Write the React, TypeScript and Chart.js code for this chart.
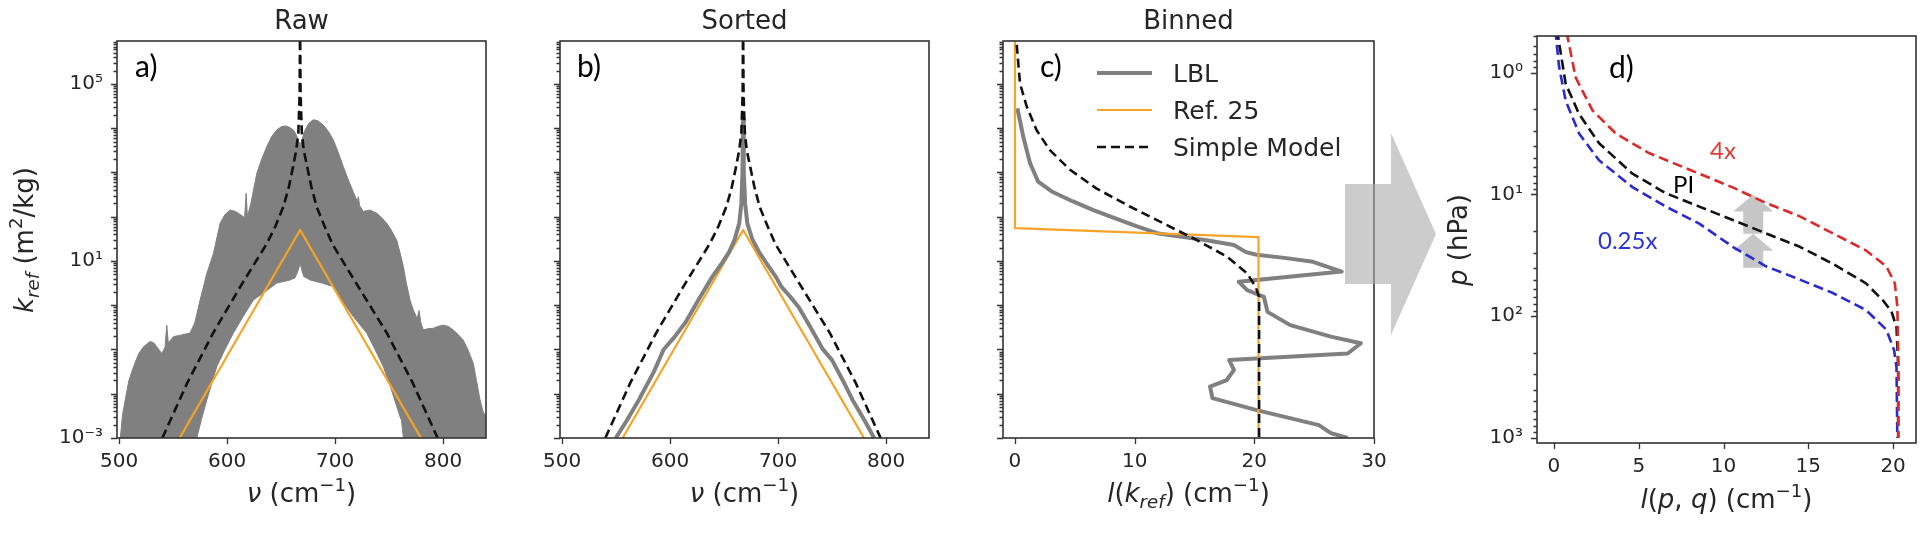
import React, { useEffect, useRef } from 'react';
import { Chart, registerables } from 'chart.js';

Chart.register(...registerables);

const FONT = "'DejaVu Sans', sans-serif";
const LETTER_FONT = "Lato, 'Open Sans', sans-serif";
const INK = '#262626';
const GRAY = '#808080';
const ORANGE = '#f5a425';
const RED = '#dc2a2a';
const BLUE = '#2a2ad2';
const H = 545;

// ---------- axes ----------
const nuTicks = [500, 600, 700, 800];
const kTickValues = [1e-3, 1e1, 1e5];
const kTickLabels = ['10⁻³', '10¹', '10⁵'];
const binTicks = [0, 10, 20, 30];
const lpqTicks = [0, 5, 10, 15, 20];
const pTickValues = [1, 10, 100, 1000];
const pTickLabels = ['10⁰', '10¹', '10²', '10³'];

// ---------- a) raw line-by-line spectrum, [ν (cm⁻¹), log10 k (m²/kg)] ----------
// upper envelope, left to right
const rawUpper: [number, number][] = [
  [500.9, -3.05], [503, -2.5], [505.6, -2.14], [509, -1.7], [513.3, -1.39], [518, -1.1],
  [522.5, -0.94], [528.7, -0.82], [532, -0.85], [534.9, -0.94], [539.5, -1.09], [542.5, -0.95],
  [544.1, -0.45], [545.5, -0.85], [550.3, -0.71], [558, -0.67], [565.7, -0.63], [570, -0.4],
  [575, 0.12], [581, 0.7], [587.3, 1.17], [593.5, 1.85], [598, 2.05], [602.8, 2.15], [608, 2.12],
  [612, 2.05], [616.2, 1.98], [617.6, 2.53], [618.8, 2.0], [622, 2.3], [627.5, 2.98], [632, 3.3],
  [636.7, 3.58], [641, 3.8], [646, 3.96], [650, 4.03], [653.7, 4.05], [657, 4.03], [661.4, 3.96],
  [664, 3.85], [666, 3.72], [667.6, 3.62], [669.1, 3.72], [672, 3.95], [676, 4.12], [679.9, 4.19],
  [684, 4.17], [689.2, 4.07], [694, 3.92], [698.5, 3.73], [703, 3.45], [707.7, 3.13], [712, 2.85],
  [717, 2.55], [720.5, 2.35], [721.6, 2.45], [722.7, 2.25], [726.2, 2.12], [732.4, 2.15],
  [738.6, 2.08], [743, 1.98], [747.9, 1.85], [752, 1.7], [757.1, 1.47], [760, 1.2], [763.3, 0.87],
  [766, 0.5], [769.4, 0.12], [772.5, -0.11], [776, -0.3], [777.8, -0.12], [779.5, -0.4],
  [781.8, -0.56], [786, -0.53], [791, -0.52], [795, -0.48], [800.3, -0.45], [805, -0.48],
  [809.5, -0.56], [814, -0.66], [818.8, -0.79], [823, -1.0], [828, -1.31], [831, -1.7],
  [834.3, -2.14], [837, -2.4], [839.8, -2.52], [842, -2.7],
];
// lower envelope, right to left (below the axis where the band reaches the floor)
const rawLower: [number, number][] = [
  [842, -4], [763.5, -4], [763.3, -3.0], [761.5, -2.6], [760.2, -2.52], [752, -1.9], [744.7, -1.39],
  [737, -1.0], [729.3, -0.63], [717, -0.26], [708, 0.05], [698.5, 0.42], [688, 0.5], [676.9, 0.57],
  [671, 0.65], [669.1, 0.8], [667.6, 0.95], [666, 0.8], [663, 0.62], [658.3, 0.57], [646, 0.5],
  [635, 0.3], [624.4, 0.12], [615, -0.25], [605.8, -0.63], [598, -1.0], [590.4, -1.39],
  [581.2, -2.14], [576, -2.6], [571.9, -3.0], [571.9, -4], [500, -4],
];

// ---------- b) sorted spectrum ----------
const sortedLBL: [number, number][] = [
  [549.7, -3.0], [560, -2.6], [571, -2.14], [585, -1.5], [594, -1.0], [599, -0.86], [604, -0.72],
  [614.5, -0.38], [627, 0.15], [639, 0.64], [648, 0.95], [654.6, 1.2], [660, 1.5], [664, 1.85],
  [666, 2.3], [667, 3.0], [667.6, 4.2], [668.2, 3.0], [669.5, 2.3], [671.5, 1.85], [676, 1.5],
  [682, 1.22], [690, 0.92], [698, 0.64], [703, 0.42], [711, 0.2], [719, -0.04], [730, -0.5],
  [741, -0.98], [750, -1.24], [760, -1.7], [769, -2.14], [780, -2.6], [789, -3.0],
];
const ref25Spectrum: [number, number][] = [[556, -3.0], [667.6, 1.7], [779.6, -3.0]];
const simpleSpectrum: [number, number][] = [
  [540, -3.0], [563, -1.76], [587, -0.63], [612, 0.41], [637, 1.4], [645, 1.8], [652, 2.22],
  [657, 2.65], [661, 3.12], [664, 3.5], [666, 3.9], [667.2, 4.8], [667.6, 6.5], [668, 4.8],
  [669.2, 3.9], [671, 3.5], [674, 3.15], [678, 2.68], [683, 2.22], [690, 1.8], [698, 1.36],
  [723, 0.36], [748, -0.63], [772, -1.76], [795, -3.0],
];

// ---------- c) binned, [l (cm⁻¹), log10 k] ----------
const binnedLBL: [number, number][] = [
  [0.2, 4.45], [0.7, 3.8], [1.26, 3.21], [1.94, 2.79], [3.07, 2.57], [4.8, 2.35], [6.55, 2.15],
  [8.5, 1.95], [10.2, 1.78], [12, 1.62], [13.8, 1.55], [16, 1.47], [18.3, 1.36], [19.3, 1.2],
  [20.2, 1.14], [22.5, 1.07], [24.9, 0.98], [27.3, 0.76], [18.7, 0.53], [19.4, 0.34], [20.8, 0.19],
  [21.1, -0.15], [23.0, -0.45], [26.4, -0.71], [28.9, -0.86], [27.8, -1.09], [17.9, -1.24],
  [18.3, -1.46], [17.7, -1.69], [16.3, -1.84], [16.5, -2.1], [20.2, -2.37], [25.4, -2.71],
  [26.4, -2.89], [27.8, -3.0],
];
const binnedRef25: [number, number][] = [[0, 6.2], [0, 1.74], [20.35, 1.54], [20.35, -3.2]];
const binnedSimple: [number, number][] = [
  [0.05, 6.2], [0.42, 5.01], [0.98, 4.49], [1.8, 3.96], [2.9, 3.51], [4.6, 3.06], [6.8, 2.64],
  [9.6, 2.23], [12.4, 1.85], [15.2, 1.47], [17.7, 1.1], [19.4, 0.72], [20.1, 0.42], [20.4, 0.19],
  [20.4, -3.2],
];

// ---------- d) l(p, q) profiles, [l (cm⁻¹), log10 p (hPa)] ----------
const profilePI: [number, number][] = [
  [0.18, -0.35], [0.69, 0.09], [1.48, 0.34], [2.66, 0.58], [4.63, 0.83], [6.6, 0.99], [8.57, 1.1],
  [10.54, 1.21], [12.5, 1.32], [14.5, 1.43], [16.45, 1.57], [18.4, 1.73], [19.4, 1.87],
  [19.9, 1.96], [20.2, 2.09], [20.3, 2.4], [20.3, 3.0],
];
const profile4x: [number, number][] = [
  [0.75, -0.33], [1.28, 0.04], [2.27, 0.31], [3.65, 0.5], [5.6, 0.66], [8.57, 0.83], [10.5, 0.94],
  [12.5, 1.07], [14.5, 1.18], [16.45, 1.32], [18.4, 1.46], [19.6, 1.59], [20.1, 1.73],
  [20.25, 1.92], [20.3, 2.3], [20.3, 3.0],
];
const profileQuarter: [number, number][] = [
  [0.08, -0.35], [0.3, -0.05], [0.69, 0.23], [1.48, 0.5], [2.66, 0.72], [4.63, 0.94], [6.6, 1.1],
  [8.57, 1.24], [10.54, 1.43], [12.5, 1.59], [14.5, 1.7], [16.45, 1.81], [18.4, 1.95],
  [19.6, 2.11], [20.06, 2.28], [20.2, 2.42], [20.25, 3.0],
];
// upward shift arrows: [l, p from, p to]
const shiftArrows: [number, number, number][] = [[11.75, 40, 21], [11.75, 21, 10]];

// ---------- helpers ----------
type Seg = { t: string; it?: boolean; sup?: boolean; sub?: boolean };

function segFont(s: Seg, size: number, family: string) {
  const sz = s.sup || s.sub ? size * 0.7 : size;
  return `${s.it ? 'italic ' : ''}${sz}px ${family}`;
}

function drawRich(ctx: CanvasRenderingContext2D, segs: Seg[], x: number, y: number, size: number) {
  const widths = segs.map((s) => {
    ctx.font = segFont(s, size, FONT);
    return ctx.measureText(s.t).width;
  });
  const total = widths.reduce((a, b) => a + b, 0);
  let cx = x - total / 2;
  ctx.fillStyle = INK;
  ctx.textAlign = 'left';
  ctx.textBaseline = 'alphabetic';
  segs.forEach((s, i) => {
    ctx.font = segFont(s, size, FONT);
    const dy = s.sup ? -0.42 * size : s.sub ? 0.22 * size : 0;
    ctx.fillText(s.t, cx, y + dy);
    cx += widths[i];
  });
}

function drawText(ctx: CanvasRenderingContext2D, t: string, x: number, y: number, font: string, color = INK, align: CanvasTextAlign = 'left') {
  ctx.font = font;
  ctx.fillStyle = color;
  ctx.textAlign = align;
  ctx.textBaseline = 'alphabetic';
  ctx.fillText(t, x, y);
}

// one dataset from [x, log10 y] pairs
const series = (pts: [number, number][], color: string, width: number, dash: number[] = []) => ({
  data: pts.map(([x, e]) => ({ x, y: Math.pow(10, e) })),
  showLine: true,
  borderColor: color,
  backgroundColor: color,
  borderWidth: width,
  borderDash: dash,
  borderJoinStyle: 'round',
  pointRadius: 0,
  pointHoverRadius: 0,
  fill: false,
  tension: 0,
  clip: 0,
});

function drawFrameAndTicks(chart: any, xTicks: number[]) {
  const { ctx, chartArea: a, scales } = chart;
  const xs = scales.x;
  const ys = scales.y;
  ctx.save();
  ctx.strokeStyle = '#333';
  ctx.lineWidth = 1.3;
  ctx.beginPath();
  for (const v of xTicks) {
    const px = Math.round(xs.getPixelForValue(v)) + 0.5;
    ctx.moveTo(px, a.bottom);
    ctx.lineTo(px, a.bottom + 6);
  }
  const lo = Math.floor(Math.log10(ys.min));
  const hi = Math.ceil(Math.log10(ys.max));
  for (let n = lo; n <= hi; n++) {
    for (let k = 1; k < 10; k++) {
      const v = k * Math.pow(10, n);
      if (v < ys.min * 0.999 || v > ys.max * 1.001) continue;
      const py = Math.round(ys.getPixelForValue(v)) + 0.5;
      const len = k === 1 ? 6 : 3.5;
      ctx.moveTo(a.left - len, py);
      ctx.lineTo(a.left, py);
    }
  }
  ctx.stroke();
  ctx.lineWidth = 1.6;
  ctx.strokeRect(a.left, a.top, a.right - a.left, a.bottom - a.top);
  ctx.restore();
}

interface PanelSpec {
  width: number;
  area: { left: number; right: number; top: number; bottom: number };
  x: { min: number; max: number; ticks: number[] };
  y: { min: number; max: number; reverse?: boolean; ticks: number[]; labels: string[] | null };
  // listed bottom-most first
  datasets: any[];
  before?: (chart: any) => void;
  after?: (chart: any) => void;
}

function makeConfig(spec: PanelSpec): any {
  const { area } = spec;
  const tickFont = { family: FONT, size: 20 };
  const n = spec.datasets.length;
  return {
    type: 'scatter',
    data: { datasets: spec.datasets.map((d, i) => ({ ...d, order: n - i })) },
    options: {
      animation: false,
      responsive: false,
      devicePixelRatio: 1,
      events: [],
      layout: { padding: { left: 0, top: area.top, right: spec.width - area.right, bottom: 0 } },
      plugins: { legend: { display: false }, tooltip: { enabled: false }, title: { display: false } },
      scales: {
        x: {
          type: 'linear',
          min: spec.x.min,
          max: spec.x.max,
          grid: { display: false, drawTicks: false },
          border: { display: false },
          ticks: {
            font: tickFont,
            color: INK,
            padding: 12,
            maxRotation: 0,
            minRotation: 0,
            autoSkip: false,
            callback: (v: number) => String(v),
          },
          afterBuildTicks: (s: any) => {
            s.ticks = spec.x.ticks.map((value) => ({ value }));
          },
          afterFit: (s: any) => {
            s.height = H - area.bottom;
          },
        },
        y: {
          type: 'logarithmic',
          min: spec.y.min,
          max: spec.y.max,
          reverse: !!spec.y.reverse,
          grid: { display: false, drawTicks: false },
          border: { display: false },
          ticks: {
            display: !!spec.y.labels,
            font: tickFont,
            color: INK,
            padding: 14,
            autoSkip: false,
            callback: (_v: number, i: number) => (spec.y.labels ? spec.y.labels[i] : ''),
          },
          afterBuildTicks: (s: any) => {
            s.ticks = spec.y.ticks.map((value) => ({ value }));
          },
          afterFit: (s: any) => {
            s.width = area.left;
          },
        },
      },
    },
    plugins: [
      {
        id: 'decor',
        beforeDatasetsDraw(chart: any) {
          if (spec.before) {
            chart.ctx.save();
            spec.before(chart);
            chart.ctx.restore();
          }
        },
        afterDraw(chart: any) {
          drawFrameAndTicks(chart, spec.x.ticks);
          if (spec.after) {
            chart.ctx.save();
            spec.after(chart);
            chart.ctx.restore();
          }
        },
      },
    ],
  };
}

const nuLabel: Seg[] = [{ t: 'ν', it: true }, { t: ' (cm' }, { t: '−1', sup: true }, { t: ')' }];
const K_MIN = 1e-3;
const K_MAX = Math.pow(10, 5.97);

// ---------- panels ----------
const panelA: PanelSpec = {
  width: 520,
  area: { left: 117, right: 486, top: 41, bottom: 438 },
  x: { min: 498, max: 839.8, ticks: nuTicks },
  y: { min: K_MIN, max: K_MAX, ticks: kTickValues, labels: kTickLabels },
  datasets: [
    { ...series(rawUpper.concat(rawLower), GRAY, 1), fill: 'shape', backgroundColor: GRAY },
    series(ref25Spectrum, ORANGE, 2.2),
    series(simpleSpectrum, '#111', 2.6, [9, 5]),
  ],
  after(chart) {
    const { ctx } = chart;
    drawRich(ctx, [{ t: 'Raw' }], 301.5, 29, 26);
    drawRich(ctx, nuLabel, 301.5, 502, 26);
    ctx.save();
    ctx.translate(33, 240);
    ctx.rotate(-Math.PI / 2);
    drawRich(ctx, [{ t: 'k', it: true }, { t: 'ref', it: true, sub: true }, { t: ' (m' }, { t: '2', sup: true }, { t: '/kg)' }], 0, 0, 26);
    ctx.restore();
    drawText(ctx, 'a)', 135, 77, `30px ${LETTER_FONT}`, '#000');
  },
};

const panelB: PanelSpec = {
  width: 460,
  area: { left: 40, right: 409, top: 41, bottom: 438 },
  x: { min: 498, max: 839.8, ticks: nuTicks },
  y: { min: K_MIN, max: K_MAX, ticks: kTickValues, labels: null },
  datasets: [
    series(ref25Spectrum, ORANGE, 2.2),
    series(sortedLBL, GRAY, 4),
    series(simpleSpectrum, '#111', 2.6, [9, 5]),
  ],
  after(chart) {
    const { ctx } = chart;
    drawRich(ctx, [{ t: 'Sorted' }], 224.5, 29, 26);
    drawRich(ctx, nuLabel, 224.5, 502, 26);
    drawText(ctx, 'b)', 57, 77, `30px ${LETTER_FONT}`, '#000');
  },
};

const legendRows = [
  { label: 'LBL', color: GRAY, width: 4, dash: [] as number[] },
  { label: 'Ref. 25', color: ORANGE, width: 2.2, dash: [] as number[] },
  { label: 'Simple Model', color: '#111', width: 2.6, dash: [9, 5] },
];

const panelC: PanelSpec = {
  width: 465,
  area: { left: 23, right: 394, top: 41, bottom: 438 },
  x: { min: -1, max: 30, ticks: binTicks },
  y: { min: K_MIN, max: K_MAX, ticks: kTickValues, labels: null },
  datasets: [
    series(binnedLBL, GRAY, 4),
    series(binnedRef25, ORANGE, 2.2),
    series(binnedSimple, '#111', 2.6, [9, 5]),
  ],
  after(chart) {
    const { ctx } = chart;
    drawRich(ctx, [{ t: 'Binned' }], 208.5, 29, 26);
    drawRich(
      ctx,
      [{ t: 'l', it: true }, { t: '(' }, { t: 'k', it: true }, { t: 'ref', it: true, sub: true }, { t: ') (cm' }, { t: '−1', sup: true }, { t: ')' }],
      208.5, 502, 26,
    );
    drawText(ctx, 'c)', 60, 77, `30px ${LETTER_FONT}`, '#000');
    // legend
    legendRows.forEach((r, i) => {
      const ly = 73 + i * 37;
      ctx.save();
      ctx.strokeStyle = r.color;
      ctx.lineWidth = r.width;
      ctx.setLineDash(r.dash);
      ctx.beginPath();
      ctx.moveTo(117, ly);
      ctx.lineTo(172, ly);
      ctx.stroke();
      ctx.restore();
      drawText(ctx, r.label, 193, ly + 9, `25px ${FONT}`);
    });
    // transition arrow towards d)
    ctx.fillStyle = 'rgba(170,170,170,0.6)';
    ctx.beginPath();
    ctx.moveTo(365, 184);
    ctx.lineTo(411, 184);
    ctx.lineTo(411, 133);
    ctx.lineTo(456, 234);
    ctx.lineTo(411, 335);
    ctx.lineTo(411, 284);
    ctx.lineTo(365, 284);
    ctx.closePath();
    ctx.fill();
  },
};

const panelD: PanelSpec = {
  width: 480,
  area: { left: 97, right: 476, top: 36, bottom: 443 },
  x: { min: -1.0, max: 21.35, ticks: lpqTicks },
  y: { min: 0.5, max: 1100, reverse: true, ticks: pTickValues, labels: pTickLabels },
  datasets: [
    series(profileQuarter, BLUE, 2.6, [10, 5]),
    series(profilePI, '#111', 2.6, [10, 5]),
    series(profile4x, RED, 2.6, [10, 5]),
  ],
  before(chart) {
    const { ctx, scales } = chart;
    ctx.fillStyle = '#c6c6c6';
    for (const [l, pFrom, pTo] of shiftArrows) {
      const x = scales.x.getPixelForValue(l);
      const yb = scales.y.getPixelForValue(pFrom);
      const yt = scales.y.getPixelForValue(pTo);
      const head = 17;
      ctx.beginPath();
      ctx.moveTo(x, yt);
      ctx.lineTo(x + 20, yt + head);
      ctx.lineTo(x + 10, yt + head);
      ctx.lineTo(x + 10, yb);
      ctx.lineTo(x - 10, yb);
      ctx.lineTo(x - 10, yt + head);
      ctx.lineTo(x - 20, yt + head);
      ctx.closePath();
      ctx.fill();
    }
  },
  after(chart) {
    const { ctx } = chart;
    drawRich(
      ctx,
      [{ t: 'l', it: true }, { t: '(' }, { t: 'p', it: true }, { t: ', ' }, { t: 'q', it: true }, { t: ') (cm' }, { t: '−1', sup: true }, { t: ')' }],
      286.5, 508, 26,
    );
    ctx.save();
    ctx.translate(27, 240);
    ctx.rotate(-Math.PI / 2);
    drawRich(ctx, [{ t: 'p', it: true }, { t: ' (hPa)' }], 0, 0, 26);
    ctx.restore();
    drawText(ctx, 'd)', 169, 78, `30px ${LETTER_FONT}`, '#000');
    drawText(ctx, '4x', 270, 159, `24px ${LETTER_FONT}`, '#e23b36');
    drawText(ctx, 'PI', 233, 193, `24px ${LETTER_FONT}`, '#000');
    drawText(ctx, '0.25x', 158, 249, `24px ${LETTER_FONT}`, '#2b35d4');
  },
};

function Panel({ left, spec }: { left: number; spec: PanelSpec }) {
  const ref = useRef<HTMLCanvasElement>(null);
  useEffect(() => {
    const chart = new Chart(ref.current as HTMLCanvasElement, makeConfig(spec));
    return () => chart.destroy();
  }, [spec]);
  return (
    <canvas
      ref={ref}
      width={spec.width}
      height={H}
      style={{ position: 'absolute', left, top: 0, width: spec.width, height: H, display: 'block' }}
    />
  );
}

export default function App() {
  return (
    <div style={{ position: 'absolute', left: 0, top: 0, width: 1920, height: H, background: '#fff', overflow: 'hidden' }}>
      <Panel left={0} spec={panelA} />
      <Panel left={520} spec={panelB} />
      <Panel left={980} spec={panelC} />
      <Panel left={1440} spec={panelD} />
    </div>
  );
}
